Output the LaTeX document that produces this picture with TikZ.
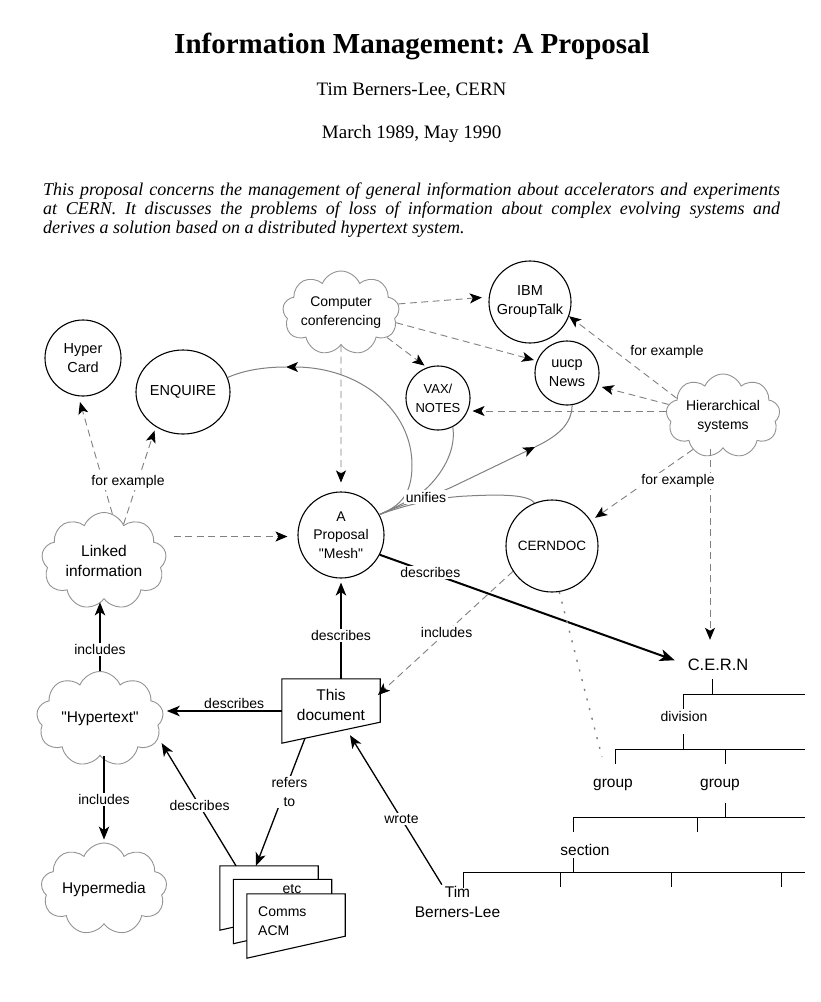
\documentclass[tikz,border=0pt]{standalone}
\usepackage{fontspec}
\setmainfont{Liberation Serif}
\newfontfamily\arial{Liberation Sans}
\usetikzlibrary{shapes.symbols,shapes.geometric,arrows.meta,calc}
\newcommand\fsz[2]{\fontsize{#1}{#2}\selectfont}
\frenchspacing
\tikzset{
  circ/.style={circle, draw=black, line width=1.1pt, align=center, inner sep=0pt, font=\arial\fsz{14.5}{19}},
  ellip/.style={ellipse, draw=black, line width=1.1pt, align=center, inner sep=0pt, font=\arial\fsz{14.5}{19}},
  cloudn/.style={cloud, cloud puffs=9, cloud puff arc=135, cloud ignores aspect, draw=gray!85, line width=0.9pt, align=center, inner sep=0pt, font=\arial\fsz{15.5}{20}},
  docbox/.style={rectangle, inner sep=0pt, minimum width=98pt, minimum height=64pt},
  docline/.style={draw=black, line width=1.1pt, fill=white},
  tx/.style={font=\arial\fsz{14}{19}, align=center, inner sep=1.5pt},
  lbl/.style={tx, fill=white},
  tipd/.tip={Stealth[length=12pt,width=10pt,inset=3pt,color=black]},
  tips/.tip={Stealth[length=13pt,width=10.5pt,inset=3.5pt]},
  dsh/.style={draw=gray, line width=0.9pt, dash pattern=on 7pt off 4.5pt, -tipd},
  solidarr/.style={draw=black, line width=1.3pt, -tips},
  uni/.style={draw=gray, line width=1pt},
  tree/.style={draw=black, line width=1pt},
}
\begin{document}
\begin{tikzpicture}[x=1pt,y=-1pt]
\fill[white] (0,0) rectangle (820,1002);
\useasboundingbox (0,0) rectangle (820,1002);

% header
\node[anchor=base, font=\bfseries\fsz{29}{34}] (title) at (412,53) {Information Management: A Proposal};
\node[anchor=base, font=\fsz{19}{22}] (author) at (411.5,95) {Tim Berners-Lee, CERN};
\node[anchor=base, font=\fsz{19}{22}] (date) at (411.7,138) {March 1989, May 1990};
\node[anchor=base west, inner sep=0pt, font=\itshape\fsz{18}{19}] (abs1) at (43,195) {\makebox[737pt][s]{This proposal concerns the management of general information about accelerators and experiments}};
\node[anchor=base west, inner sep=0pt, font=\itshape\fsz{18}{19}] (abs2) at (43,214) {\makebox[737pt][s]{at CERN. It discusses the problems of loss of information about complex evolving systems and}};
\node[anchor=base west, inner sep=0pt, font=\itshape\fsz{18}{19}] (abs3) at (43,233) {derives a solution based on a distributed hypertext system.};

% nodes
\node[circ, minimum size=76pt] (hypercard) at (83,358) {Hyper\\Card};
\node[ellip, minimum width=94pt, minimum height=84pt] (enquire) at (183,392) {ENQUIRE};
\node[cloudn, minimum width=112pt, minimum height=84pt, font=\arial\fsz{14}{19}] (cc) at (341,313) {Computer\\conferencing};
\node[circ, minimum size=82pt] (gt) at (530,302) {IBM\\GroupTalk};
\node[circ, minimum size=64pt] (uucp) at (567,373) {uucp\\News};
\node[circ, minimum size=64pt, font=\arial\fsz{13}{19}] (vax) at (438,398) {VAX/\\NOTES};
\node[cloudn, minimum width=114pt, minimum height=84pt, font=\arial\fsz{14}{19}] (hier) at (723,416) {Hierarchical\\systems};
\node[cloudn, minimum width=125pt, minimum height=97pt] (linked) at (104,561) {Linked\\information};
\node[circ, minimum size=86pt, font=\arial\fsz{14}{18.5}] (mesh) at (341,535) {A\\Proposal\\"Mesh"};
\node[circ, minimum size=92pt, font=\arial\fsz{13.5}{19}] (cerndoc) at (552,546) {CERNDOC};
\node[cloudn, minimum width=127pt, minimum height=95pt] (hyper) at (100,719) {"Hypertext"};
\node[cloudn, minimum width=126pt, minimum height=92pt] (hmedia) at (104,889) {Hypermedia};

% this document
\node[docbox] (doc) at (331,711) {};
\draw[docline] (doc.north west) -- (doc.north east) -- ([yshift=21pt]doc.south east) -- (doc.south west) -- cycle;
\node[tx, font=\arial\fsz{15.5}{20}] (doctext) at (331,705) {This\\document};

% document stack
\node[docbox] (dk1) at (269,898) {};
\node[docbox] (dk2) at (282.5,911.5) {};
\node[docbox] (dk3) at (296,926) {};
\draw[docline] (dk1.north west) -- (dk1.north east) -- ([yshift=22pt]dk1.south east) -- (dk1.south west) -- cycle;
\draw[docline] (dk2.north west) -- (dk2.north east) -- ([yshift=22pt]dk2.south east) -- (dk2.south west) -- cycle;
\node[tx, anchor=base] (etc) at (292,893) {etc};
\draw[docline] (dk3.north west) -- (dk3.north east) -- ([yshift=22pt]dk3.south east) -- (dk3.south west) -- cycle;
\node[tx, align=left, anchor=west] (comms) at (256.5,921) {Comms\\ACM};

% tree labels
\node[tx, font=\arial\fsz{16.5}{20}, anchor=base] (cern) at (718,670) {C.E.R.N};
\node[tx, anchor=base] (division) at (684,721) {division};
\node[tx, font=\arial\fsz{15.5}{20}, anchor=base] (group1) at (613,787) {group};
\node[tx, font=\arial\fsz{15.5}{20}, anchor=base] (group2) at (720,787) {group};
\node[tx, font=\arial\fsz{15.5}{20}, anchor=base] (section) at (585,855) {section};
\node[tx, font=\arial\fsz{15.5}{20}] (tim) at (457.5,902) {Tim\\Berners-Lee};
\coordinate (dotend) at (602,757);

% tree lines
\draw[tree] (712,679) -- (712,694);
\draw[tree] (683,694) -- (805,694);
\draw[tree] (683,694) -- (683,709);
\draw[tree] (683,734) -- (683,749);
\draw[tree] (615,749) -- (805,749);
\draw[tree] (615,749) -- (615,764);
\draw[tree] (725,749) -- (725,764);
\draw[tree] (725,803) -- (725,818);
\draw[tree] (573,817) -- (805,817);
\draw[tree] (573,817) -- (573,832);
\draw[tree] (697,817) -- (697,832);
\draw[tree] (573,858) -- (573,873);
\draw[tree] (463,872) -- (805,872);
\draw[tree] (463,872) -- (463,888);
\draw[tree] (560,872) -- (560,887);
\draw[tree] (671,872) -- (671,887);
\draw[tree] (781,872) -- (781,887);

% dashed from computer conferencing
\draw[dsh, shorten >=7pt] (cc.9) -- (gt.173);
\draw[dsh, shorten >=3pt] (cc.-10) -- (uucp.158);
\draw[dsh, shorten >=3pt] (cc.-28) -- (vax.110);
\draw[dsh, shorten >=9pt] (cc.south) -- (mesh.north);

% dashed from hierarchical systems
\draw[dsh] (hier.159) -- (gt.-20);
\node[tx] (fe1) at (667,352) {for example};
\draw[dsh, shorten >=5pt] (hier.168) -- (uucp.-23);
\draw[dsh, shorten >=2pt] (hier.175) -- (vax.east |- hier.175);
\draw[dsh, shorten >=5pt] (hier.-132) -- (cerndoc.33);
\draw[dsh, shorten >=17pt] ([xshift=-13pt]hier.south) -- ([xshift=-8pt]cern.north);
\node[lbl] (fe2) at (678,481) {for example};

% dashed from linked information
\draw[dsh, shorten >=6pt] (linked.80) -- (hypercard.-97);
\draw[dsh, shorten >=4pt] (linked.62) -- (enquire.-128);
\node[lbl] (fe3) at (128,482) {for example};
\draw[dsh, shorten <=8pt, shorten >=10pt] (linked.east |- mesh.182) -- (mesh.182);

% unifies curves
\coordinate (enqtip) at (286,367);
\coordinate (uutip) at (535,447);
\draw[uni, tipd-] (enqtip) .. controls (360,367) and (412,410) .. (412,465) .. controls (412,495) and (400,506) .. (mesh.28);
\draw[uni] (enqtip) .. controls (262,367) and (242,371) .. (enquire.18);
\draw[uni] (mesh.28) .. controls (398,506) and (418,497) .. (428,487) .. controls (445,470) and (456,448) .. (vax.-63);
\draw[uni, -tipd] (mesh.28) .. controls (400,505) and (430,497) .. (452,487) -- (uutip);
\draw[uni] (uutip) .. controls (556,437) and (572,425) .. (uucp.-81);
\draw[uni] (mesh.28) .. controls (405,505) and (440,497) .. (467,496) .. controls (505,494) and (528,495) .. (cerndoc.112);
\node[lbl] (unifies) at (426,497) {unifies};

% solid connectors
\draw[solidarr, shorten >=3pt] (hyper.north) -- (hyper.north |- linked.south) node[lbl, pos=0.3] {includes};
\draw[solidarr, shorten >=3pt] (hmedia.north |- hyper.south) -- (hmedia.north) node[lbl, pos=0.5] {includes};
\draw[solidarr, shorten >=4pt] (doc.west) -- (hyper.east |- doc.west) node[tx, pos=0.4, above] {describes};
\draw[solidarr, shorten >=4pt] (mesh.south |- doc.north) -- (mesh.south) node[lbl, pos=0.43] {describes};
\draw[draw=black, line width=2pt, -{Stealth[length=15pt,width=12pt,inset=4pt]}, shorten >=12pt] (mesh.-27) -- (cern.west) node[lbl, pos=0.165] {describes};
\draw[dsh, shorten >=-3pt] (cerndoc.-147) -- ([yshift=18pt]doc.east) node[lbl, midway] {includes};
\draw[gray, line width=1.4pt, dash pattern=on 2pt off 8pt] (cerndoc.-81) -- (dotend);
\draw[solidarr] ([xshift=-26pt,yshift=5pt]doc.south) -- ([xshift=-13pt]dk1.north) node[lbl, pos=0.42, xshift=5pt] {refers\\to};
\draw[solidarr, shorten >=6pt] ([xshift=-33pt]dk1.north) -- (hyper.-18) node[lbl, pos=0.47] {describes};
\draw[solidarr] (tim.132) -- ([xshift=19pt,yshift=8pt]doc.south) node[lbl, pos=0.44] {wrote};
\end{tikzpicture}
\end{document}
